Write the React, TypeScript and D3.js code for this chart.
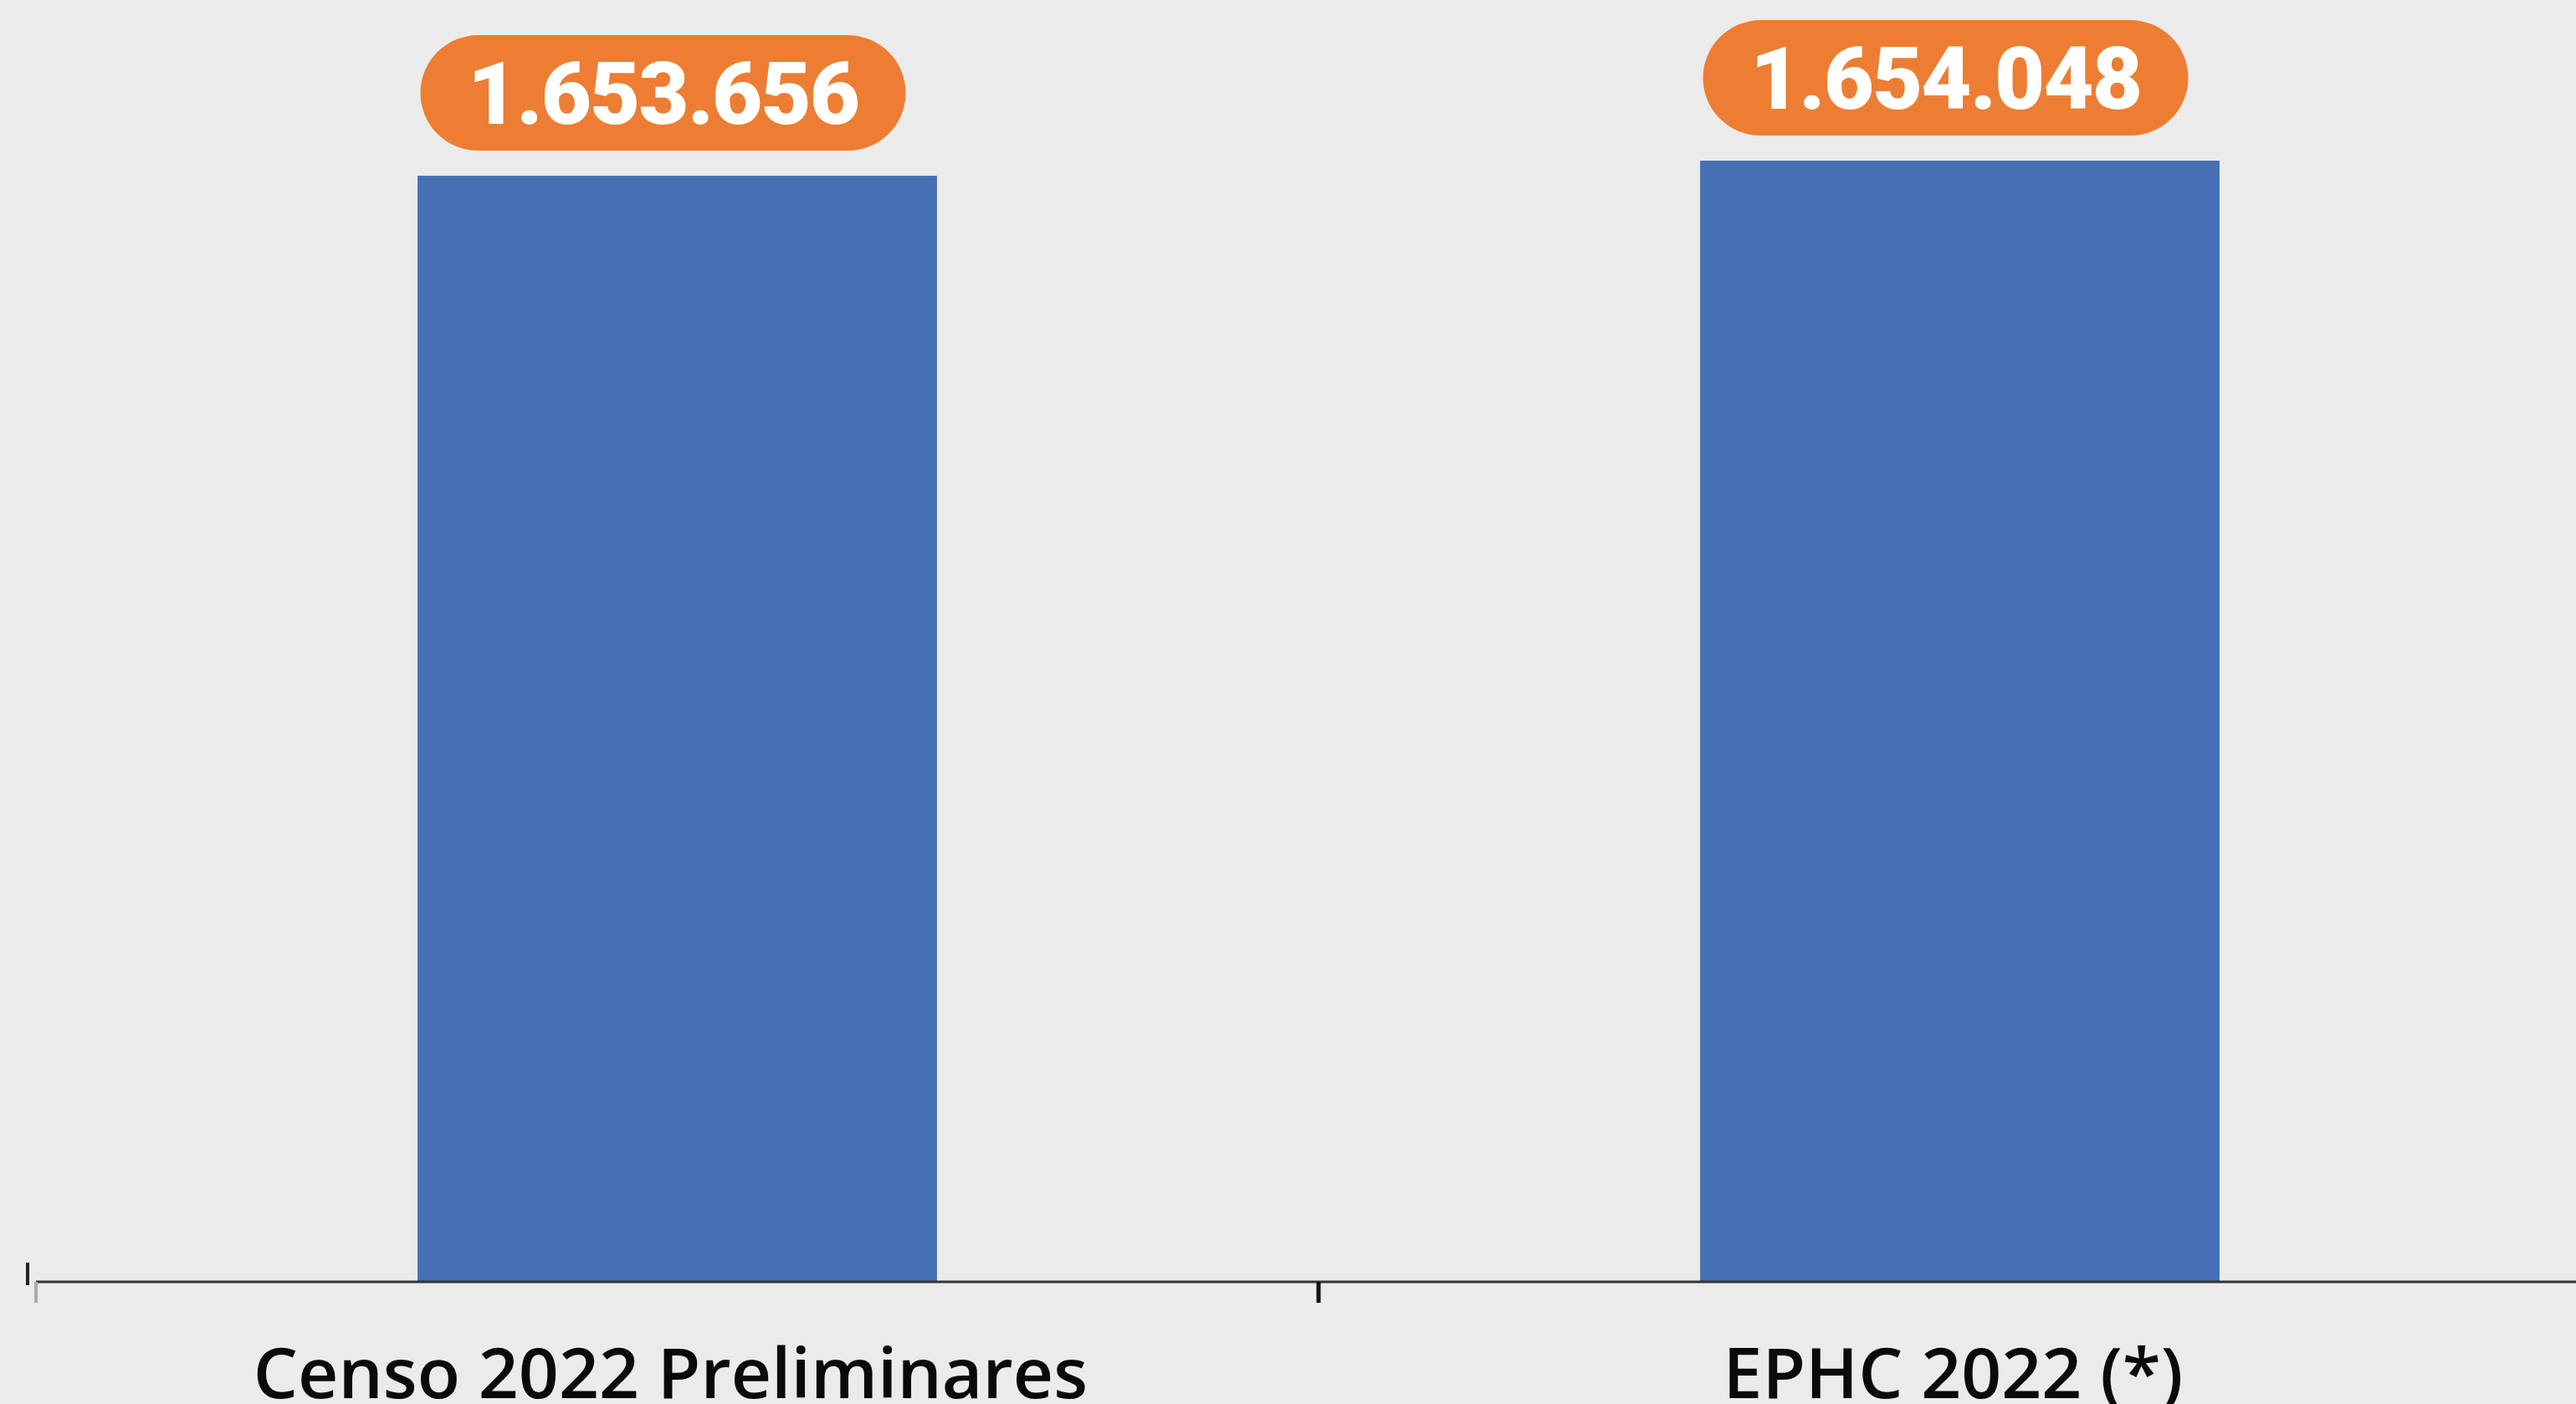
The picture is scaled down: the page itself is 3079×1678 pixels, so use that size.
import React from "react";
import * as d3 from "d3";

const categories: string[] = ["Censo 2022 Preliminares", "EPHC 2022 (*)"];
const values: number[] = [1653656, 1654048];
const valueLabels: string[] = ["1.653.656", "1.654.048"];
const yDomain: [number, number] = [1624870, 1658230];

const W = 3079;
const H = 1678;
const BASE_Y = 1532;
const X0 = 43;
const STEP = 1533;

export default function App() {
  const x = d3
    .scaleBand<string>()
    .domain(categories)
    .range([X0, X0 + STEP * categories.length])
    .paddingInner(0)
    .paddingOuter(0);
  const y = d3.scaleLinear().domain(yDomain).range([BASE_Y, 0]);
  const barW = x.bandwidth() * 0.405;
  const pillW = 580;
  const pillH = 138;

  const boundaries = [x.range()[0], ...categories.slice(1).map((c) => x(c) as number), x.range()[1]];

  return (
    <svg
      width={W}
      height={H}
      style={{ position: "absolute", left: 0, top: 0, background: "#ebebeb" }}
    >
      <rect x={0} y={0} width={W} height={H} fill="#ebebeb" />
      {categories.map((c, i) => {
        const cx = (x(c) as number) + x.bandwidth() / 2;
        const top = y(values[i]);
        const pillCx = cx - 17;
        const pillBottom = top - 30;
        return (
          <g key={c}>
            <rect
              x={cx - barW / 2}
              y={top}
              width={barW}
              height={BASE_Y - top}
              fill="#4570b4"
            />
            <rect
              x={pillCx - pillW / 2}
              y={pillBottom - pillH}
              width={pillW}
              height={pillH}
              rx={pillH / 2}
              ry={pillH / 2}
              fill="#ed7d32"
            />
            <text
              x={pillCx}
              y={pillBottom - pillH / 2 + 37}
              textAnchor="middle"
              fontFamily="Roboto, 'Liberation Sans', sans-serif"
              fontWeight={900}
              fontSize={104}
              letterSpacing={-2}
              fill="#ffffff"
            >
              {valueLabels[i]}
            </text>
            <text
              x={cx - 8}
              y={1671}
              textAnchor="middle"
              fontFamily="'Open Sans', 'Noto Sans', sans-serif"
              fontWeight={600}
              fontSize={84}
              fill="#0a0a0a"
            >
              {c}
            </text>
          </g>
        );
      })}
      <line x1={X0} x2={W} y1={BASE_Y} y2={BASE_Y} stroke="#333333" strokeWidth={3} />
      <line x1={33} x2={33} y1={1509} y2={1536} stroke="#222222" strokeWidth={4} />
      {boundaries.map((bx, i) => (
        <line
          key={i}
          x1={bx}
          x2={bx}
          y1={BASE_Y}
          y2={1557}
          stroke={i === 0 ? "#aaaaaa" : "#111111"}
          strokeWidth={i === 0 ? 4 : 5}
        />
      ))}
    </svg>
  );
}
